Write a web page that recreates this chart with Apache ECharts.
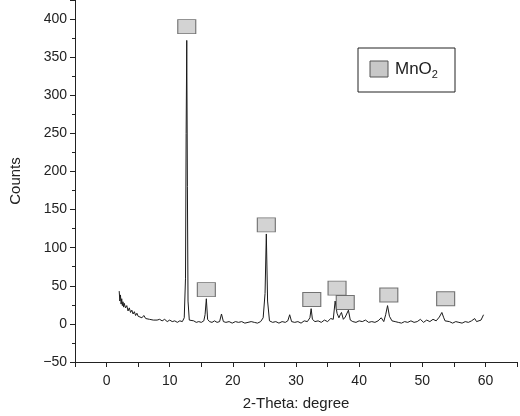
<!DOCTYPE html>
<html><head><meta charset="utf-8">
<script src="https://cdn.jsdelivr.net/npm/echarts@6/dist/echarts.min.js"></script>
<style>html,body{margin:0;padding:0;background:#fff}#c{width:520px;height:416px}</style>
</head><body><div id="c"></div>
<script>
const twoTheta = [2.0,2.1,2.2,2.3,2.4,2.5,2.6,2.7,2.8,3.0,3.2,3.4,3.6,3.8,4.0,4.2,4.4,4.6,4.8,5.0,5.3,5.6,5.9,6.2,6.5,6.8,7.1,7.4,7.7,8.0,8.4,8.8,9.2,9.6,10.0,10.4,10.8,11.2,11.6,12.0,12.3,12.5,12.6,12.7,12.8,12.9,13.1,13.4,13.8,14.2,14.6,15.0,15.4,15.6,15.8,16.0,16.3,16.7,17.1,17.5,17.9,18.2,18.5,18.9,19.4,19.9,20.4,20.9,21.4,21.9,22.4,22.9,23.4,23.9,24.4,24.8,25.1,25.3,25.5,25.8,26.3,26.8,27.3,27.8,28.3,28.7,29.0,29.3,29.8,30.3,30.8,31.3,31.8,32.2,32.4,32.6,33.0,33.5,34.0,34.5,35.0,35.5,35.9,36.2,36.5,36.8,37.0,37.2,37.5,37.8,38.1,38.3,38.6,39.0,39.5,40.0,40.5,41.0,41.5,42.0,42.5,43.0,43.5,43.9,44.2,44.5,44.8,45.2,45.7,46.2,46.7,47.2,47.7,48.2,48.7,49.2,49.7,50.2,50.7,51.2,51.7,52.2,52.7,53.1,53.4,53.6,53.9,54.3,54.8,55.3,55.8,56.3,56.8,57.3,57.8,58.3,58.6,58.9,59.3,59.7,60.0];
const counts = [43,30,38,26,33,24,29,22,27,21,24,17,21,15,18,13,16,11,14,10,12,8,11,7,9,6,8,5,7,5,6,4,6,3,5,3,4,2,4,3,8,60,250,372,180,30,5,3,4,2,3,2,4,12,33,6,3,2,4,2,3,13,3,2,3,1,3,2,3,1,2,3,2,1,3,8,40,118,30,4,2,3,1,3,2,4,12,3,2,3,1,4,3,8,20,6,3,4,2,5,3,7,6,30,14,8,12,15,6,9,10,18,5,3,2,4,3,5,2,3,2,4,8,3,12,24,10,4,3,2,1,3,2,4,2,3,6,2,5,3,6,4,9,15,8,4,2,3,1,3,2,1,3,2,4,7,3,2,5,12];
const peakX = [12.7,15.8,25.3,32.5,36.5,37.8,44.7,53.7];
const peakY = [390,45,130,32,47,28,38,33];
const xTicks = [0,10,20,30,40,50,60];

const chart = echarts.init(document.getElementById('c'));
const font = 'Liberation Sans, Arial, sans-serif';
chart.setOption({
  animation:false,
  grid:{left:73,right:0,top:0,bottom:54},
  xAxis:{type:'value',min:-5,max:65,interval:5,
    name:'2-Theta: degree',nameLocation:'middle',nameGap:34,
    nameTextStyle:{fontFamily:font,fontSize:15,color:'#222'},
    axisLine:{onZero:false,lineStyle:{color:'#222'}},
    axisTick:{length:5,lineStyle:{color:'#222'}},
    splitLine:{show:false},
    axisLabel:{fontFamily:font,fontSize:14,color:'#222',margin:12,
      formatter:v=>xTicks.includes(v)?String(v):''}},
  yAxis:{type:'value',min:-50,max:425,interval:50,
    name:'Counts',nameLocation:'middle',nameGap:52,
    nameTextStyle:{fontFamily:font,fontSize:15,color:'#222'},
    axisLine:{show:true,onZero:false,lineStyle:{color:'#222'}},
    axisTick:{length:5,lineStyle:{color:'#222'}},
    minorTick:{show:true,splitNumber:2,length:3,lineStyle:{color:'#222'}},
    splitLine:{show:false},
    axisLabel:{fontFamily:font,fontSize:14,color:'#222',showMaxLabel:false,
      formatter:v=>v<0?'\u2212'+(-v):String(v)}},
  series:[
    {type:'line',data:twoTheta.map((x,i)=>[x,counts[i]]),showSymbol:false,
     lineStyle:{color:'#1a1a1a',width:1},z:2},
    {type:'scatter',data:peakX.map((x,i)=>[x,peakY[i]]),symbol:'rect',symbolSize:[18,14],
     itemStyle:{color:'#c8c8c8',borderColor:'#555',borderWidth:1},z:3}
  ],
  graphic:[
    {type:'rect',shape:{x:358,y:48,width:97,height:44},style:{fill:'#fff',stroke:'#222',lineWidth:1}},
    {type:'rect',shape:{x:370,y:61,width:18,height:16},style:{fill:'#c8c8c8',stroke:'#555',lineWidth:1}},
    {type:'text',x:395,y:59,style:{text:'MnO{s|2}',rich:{s:{fontSize:11,padding:[10,0,0,0],fontFamily:font,fill:'#222'}},fontSize:17,fontFamily:font,fill:'#222'}}
  ]
});
</script></body></html>
